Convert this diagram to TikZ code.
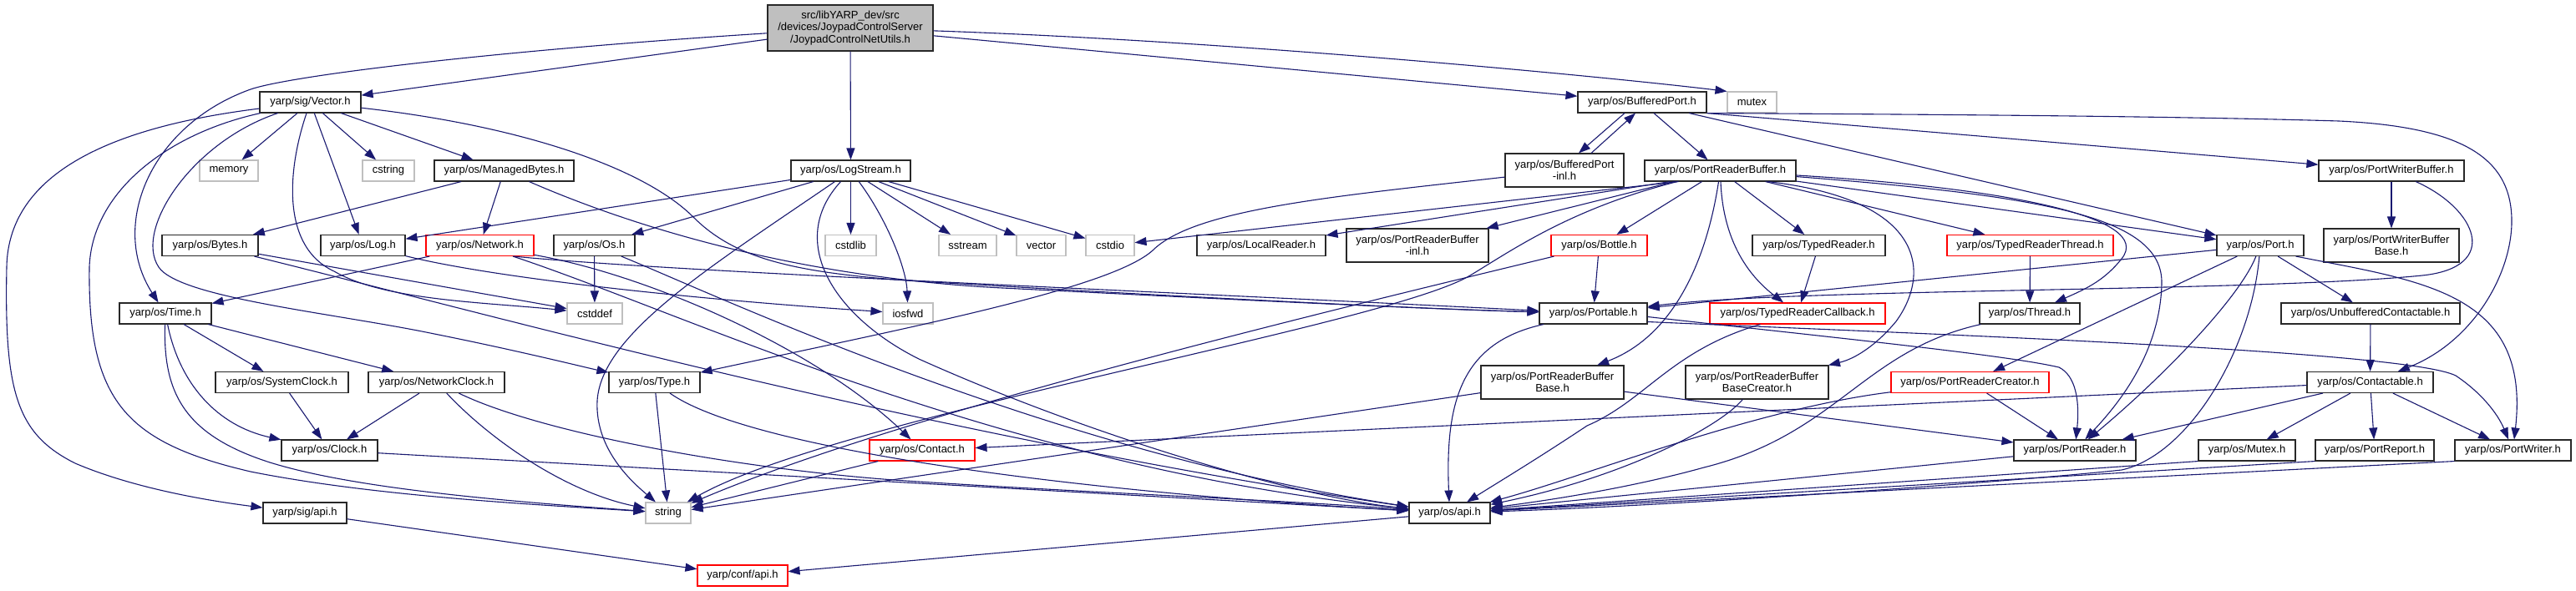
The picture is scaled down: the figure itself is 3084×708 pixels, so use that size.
\documentclass[tikz,border=0pt]{standalone}
\usepackage{fontspec}
\setmainfont{Liberation Sans}
\usetikzlibrary{arrows.meta}
\definecolor{edgec}{RGB}{25,25,112}
\definecolor{boxc}{RGB}{40,40,40}
\definecolor{grayc}{RGB}{191,191,191}
\definecolor{rootfill}{RGB}{191,191,191}
\definecolor{redc}{RGB}{255,0,0}
\tikzset{
  nb/.style={draw=boxc, line width=1.1pt, fill=white, inner sep=0pt, minimum height=25pt,
    font=\fontsize{13}{14.3}\selectfont, align=center, text=black},
  gb/.style={nb, draw=grayc},
  rb/.style={nb, draw=redc},
  e/.style={draw=edgec, line width=1.1pt, -{Triangle[length=14pt,width=10pt]}},
}
\begin{document}
\begin{tikzpicture}[x=1pt,y=-1pt]
\useasboundingbox (0,0) rectangle (3084,708);
\fill[white] (0,0) rectangle (3084,708);
% row 0
\node[nb, fill=rootfill, minimum width=198pt, minimum height=55pt] (root) at (1018,33.5) {src/libYARP\_dev/src\\/devices/JoypadControlServer\\/JoypadControlNetUtils.h};
% row 1
\node[nb, minimum width=121pt] (vec) at (371.5,122.5) {yarp/sig/Vector.h};
\node[nb, minimum width=154pt] (bport) at (1966,122.5) {yarp/os/BufferedPort.h};
\node[gb, minimum width=59pt] (mutex) at (2097.5,122.5) {mutex};
% row 2
\node[gb, minimum width=70pt] (memory) at (274,204.5) {memory};
\node[gb, minimum width=62pt] (cstring) at (465,204.5) {cstring};
\node[nb, minimum width=167pt] (mbytes) at (603.5,204.5) {yarp/os/ManagedBytes.h};
\node[nb, minimum width=143pt] (logstream) at (1018.5,204.5) {yarp/os/LogStream.h};
\node[nb, minimum width=142pt, minimum height=40pt] (bpinl) at (1873,204) {yarp/os/BufferedPort\\-inl.h};
\node[nb, minimum width=181pt] (prb) at (2059.5,204.5) {yarp/os/PortReaderBuffer.h};
\node[nb, minimum width=174pt] (pwb) at (2863,204.5) {yarp/os/PortWriterBuffer.h};
% row 3
\node[nb, minimum width=115pt] (bytes) at (251.5,294) {yarp/os/Bytes.h};
\node[nb, minimum width=101pt] (log) at (434.5,294) {yarp/os/Log.h};
\node[rb, minimum width=129pt] (network) at (574.5,294) {yarp/os/Network.h};
\node[nb, minimum width=97pt] (os) at (711.5,294) {yarp/os/Os.h};
\node[gb, minimum width=61pt] (cstdlib) at (1018.5,294) {cstdlib};
\node[gb, minimum width=69pt] (sstream) at (1158.5,294) {sstream};
\node[gb, minimum width=59pt] (vector) at (1246.5,294) {vector};
\node[gb, minimum width=58pt] (cstdio) at (1329,294) {cstdio};
\node[nb, minimum width=154pt] (localreader) at (1510,294) {yarp/os/LocalReader.h};
\node[nb, minimum width=170pt, minimum height=40pt] (prbinl) at (1697,294) {yarp/os/PortReaderBuffer\\-inl.h};
\node[rb, minimum width=115pt] (bottle) at (1914.5,294) {yarp/os/Bottle.h};
\node[nb, minimum width=159pt] (typedreader) at (2177.5,294) {yarp/os/TypedReader.h};
\node[rb, minimum width=199pt] (trthread) at (2430.5,294) {yarp/os/TypedReaderThread.h};
\node[nb, minimum width=104pt] (port) at (2706,294) {yarp/os/Port.h};
\node[nb, minimum width=162pt, minimum height=40pt] (pwbb) at (2863,294) {yarp/os/PortWriterBuffer\\Base.h};
% row 4
\node[nb, minimum width=110pt] (time) at (198,375.5) {yarp/os/Time.h};
\node[gb, minimum width=66pt] (cstddef) at (712,375.5) {cstddef};
\node[gb, minimum width=60pt] (iosfwd) at (1087,375.5) {iosfwd};
\node[nb, minimum width=129pt] (portable) at (1907.5,375.5) {yarp/os/Portable.h};
\node[rb, minimum width=210pt] (trcb) at (2152,375.5) {yarp/os/TypedReaderCallback.h};
\node[nb, minimum width=120pt] (thread) at (2430,375.5) {yarp/os/Thread.h};
\node[nb, minimum width=214pt] (ucont) at (2838,375.5) {yarp/os/UnbufferedContactable.h};
% row 5
\node[nb, minimum width=159pt] (sysclock) at (337.5,458) {yarp/os/SystemClock.h};
\node[nb, minimum width=163pt] (netclock) at (522.5,458) {yarp/os/NetworkClock.h};
\node[nb, minimum width=109pt] (type) at (783.5,458) {yarp/os/Type.h};
\node[nb, minimum width=171pt, minimum height=40pt] (prbb) at (1858.5,458) {yarp/os/PortReaderBuffer\\Base.h};
\node[nb, minimum width=171pt, minimum height=40pt] (prbbc) at (2103.5,458) {yarp/os/PortReaderBuffer\\BaseCreator.h};
\node[rb, minimum width=189pt] (prc) at (2358.5,458) {yarp/os/PortReaderCreator.h};
\node[nb, minimum width=151pt] (contactable) at (2837.5,458) {yarp/os/Contactable.h};
% row 6
\node[nb, minimum width=115pt] (clock) at (394.5,539.5) {yarp/os/Clock.h};
\node[rb, minimum width=126pt] (contact) at (1104,539.5) {yarp/os/Contact.h};
\node[nb, minimum width=146pt] (portreader) at (2484,539.5) {yarp/os/PortReader.h};
\node[nb, minimum width=116pt] (mutexh) at (2690,539.5) {yarp/os/Mutex.h};
\node[nb, minimum width=142pt] (portreport) at (2843,539.5) {yarp/os/PortReport.h};
\node[nb, minimum width=139pt] (portwriter) at (3008.5,539.5) {yarp/os/PortWriter.h};
% row 7
\node[nb, minimum width=100pt] (sigapi) at (365,614.5) {yarp/sig/api.h};
\node[gb, minimum width=54pt] (string) at (800,614.5) {string};
\node[nb, minimum width=97pt] (osapi) at (1735.5,614.5) {yarp/os/api.h};
% row 8
\node[rb, minimum width=108pt] (confapi) at (889,689.5) {yarp/conf/api.h};

% ---------- edges ----------
% root
\draw[e] (root) -- (vec);
\draw[e] (root) -- (logstream);
\draw[e] (root) -- (bport);
\draw[e] (root) .. controls (1500,50) and (1950,95) .. (mutex.north west);
\draw[e] (root) .. controls (600,60) and (350,90) .. (300,107) .. controls (180,150) and (130,270) .. (time);
% Vector.h
\draw[e] (vec) -- (memory);
\draw[e] (vec) -- (cstring);
\draw[e] (vec) -- (log);
\draw[e] (vec) -- (mbytes);
\draw[e] (vec) .. controls (150,150) and (10,200) .. (8,320) .. controls (5,470) and (20,520) .. (90,555) .. controls (160,585) and (250,600) .. (sigapi);
\draw[e] (vec) .. controls (200,160) and (110,230) .. (107,320) .. controls (105,480) and (150,530) .. (300,565) .. controls (450,595) and (650,605) .. (string);
\draw[e] (vec) .. controls (345,200) and (335,295) .. (400,325) .. controls (460,360) and (580,362) .. (cstddef);
\draw[e] (vec) .. controls (620,150) and (770,200) .. (830,260) .. controls (880,310) and (950,327) .. (1100,337) .. controls (1400,355) and (1700,370) .. (portable);
\draw[e] (vec) .. controls (230,170) and (160,275) .. (190,320) .. controls (215,357) and (400,375) .. (520,400) .. controls (620,420) and (700,440) .. (type);
% ManagedBytes
\draw[e] (mbytes) -- (bytes);
\draw[e] (mbytes) -- (network);
\draw[e] (mbytes) .. controls (800,290) and (1000,335) .. (1200,345) .. controls (1500,360) and (1700,370) .. (portable);
% LogStream
\draw[e] (logstream) -- (log);
\draw[e] (logstream) -- (os);
\draw[e] (logstream) -- (cstdlib);
\draw[e] (logstream) -- (sstream);
\draw[e] (logstream) -- (vector);
\draw[e] (logstream) -- (cstdio);
\draw[e] (logstream) .. controls (1060,260) and (1085,320) .. (iosfwd);
\draw[e] (logstream) .. controls (940,290) and (1000,380) .. (1100,430) .. controls (1300,520) and (1550,595) .. (osapi);
\draw[e] (logstream) .. controls (850,320) and (720,400) .. (715,480) .. controls (712,540) and (760,580) .. (string);
% BufferedPort
\draw[e] ([xshift=-21pt]bport.south) -- ([xshift=17pt]bpinl.north);
\draw[e] ([xshift=32pt]bpinl.north) -- ([xshift=-8pt]bport.south);
\draw[e] ([xshift=14pt]bport.south) -- ([xshift=-15pt]prb.north);
\draw[e] (bport) -- (port);
\draw[e] (bport.south east) -- (pwb);
\draw[e] (bport.south east) .. controls (2300,137) and (2600,139) .. (2800,145) .. controls (2950,152) and (3008,190) .. (3007,267) .. controls (3006,330) and (2960,410) .. (contactable);
% BufferedPort-inl
\draw[e] (bpinl) .. controls (1600,235) and (1430,250) .. (1380,300) .. controls (1330,345) and (1100,390) .. (type);
% PortReaderBuffer
\draw[e] ([xshift=-50pt]prb.south) -- (cstdio);
\draw[e] ([xshift=-60pt]prb.south) -- (localreader);
\draw[e] ([xshift=-55pt]prb.south) -- (prbinl);
\draw[e] ([xshift=-22pt]prb.south) -- (bottle);
\draw[e] (prb) -- (typedreader);
\draw[e] (prb) -- (trthread);
\draw[e] (prb) -- (port);
\draw[e] (prb) .. controls (2062,270) and (2080,320) .. (trcb);
\draw[e] (prb) .. controls (2045,300) and (2010,400) .. (prbb);
\draw[e] ([xshift=57pt]prb.south) .. controls (2310,240) and (2310,330) .. (2270,385) .. controls (2245,415) and (2220,430) .. (prbbc);
\draw[e] (prb) .. controls (2400,225) and (2580,260) .. (2540,310) .. controls (2520,335) and (2500,345) .. (thread);
\draw[e] (prb) .. controls (2450,235) and (2590,260) .. (2588,340) .. controls (2586,420) and (2540,480) .. (portreader);
\draw[e] (prb) .. controls (1880,250) and (1810,300) .. (1760,330) .. controls (1660,390) and (1000,500) .. (string);
% PortWriterBuffer
\draw[e] (pwb) -- (pwbb);
\draw[e] (pwb) .. controls (2965,250) and (2995,320) .. (2900,330) .. controls (2700,350) and (2150,345) .. (portable);
% row 3 sources
\draw[e] (bytes) -- (cstddef);
\draw[e] (bytes) .. controls (600,380) and (1100,520) .. (osapi);
\draw[e] (log) .. controls (600,335) and (850,360) .. (iosfwd);
\draw[e] (network) -- (time);
\draw[e] (network) .. controls (780,330) and (980,420) .. (contact);
\draw[e] ([xshift=40pt]network.south) .. controls (800,325) and (1300,345) .. (portable);
\draw[e] (network) .. controls (820,375) and (1200,560) .. (osapi);
\draw[e] (os) -- (cstddef);
\draw[e] (os) .. controls (850,350) and (1250,540) .. (osapi);
\draw[e] (bottle) -- (portable);
\draw[e] (bottle) .. controls (1600,370) and (1080,495) .. (string);
\draw[e] (typedreader) -- (trcb);
\draw[e] (trthread) -- (thread);
% Port
\draw[e] (port) -- (portable);
\draw[e] (port) -- (prc);
\draw[e] (port) -- (ucont);
\draw[e] (port) .. controls (2680,360) and (2580,460) .. (portreader);
\draw[e] (port) .. controls (2695,420) and (2620,545) .. (2540,563) .. controls (2400,578) and (2000,606) .. (osapi);
\draw[e] ([xshift=-10pt]port.south east) .. controls (2900,337) and (3030,350) .. (portwriter);
% row 4 sources
\draw[e] (time) -- (sysclock);
\draw[e] (time) -- (netclock);
\draw[e] (time) .. controls (215,460) and (260,510) .. (clock);
\draw[e] (time) .. controls (195,470) and (220,520) .. (320,553) .. controls (420,585) and (600,600) .. (string);
\draw[e] (portable) .. controls (1750,410) and (1730,480) .. (osapi);
\draw[e] ([yshift=-4pt]portable.east) .. controls (2200,405) and (2400,425) .. (2465,440) .. controls (2485,450) and (2490,480) .. (portreader);
\draw[e] ([yshift=-10pt]portable.east) .. controls (2300,400) and (2880,420) .. (2940,450) .. controls (2970,470) and (2990,495) .. (portwriter);
\draw[e] (trcb) .. controls (2000,420) and (1970,480) .. (1900,510) .. controls (1840,550) and (1790,580) .. (osapi);
\draw[e] (thread) .. controls (2230,420) and (2200,520) .. (2040,560) .. controls (1950,585) and (1850,600) .. (osapi);
\draw[e] (ucont) -- (contactable);
% row 5 sources
\draw[e] (sysclock) -- (clock);
\draw[e] (netclock) -- (clock);
\draw[e] (netclock) .. controls (590,530) and (680,590) .. (string);
\draw[e] (netclock) .. controls (650,520) and (900,565) .. (1100,577) .. controls (1300,590) and (1550,600) .. (osapi);
\draw[e] (type) -- (string);
\draw[e] (type) .. controls (900,540) and (1300,590) .. (osapi);
\draw[e] (prbb) -- (string);
\draw[e] (prbb) -- (portreader);
\draw[e] (prbbc) .. controls (2060,510) and (1950,570) .. (osapi);
\draw[e] (prc) -- (portreader);
\draw[e] (prc) .. controls (2100,490) and (1900,570) .. (osapi);
\draw[e] (contactable) -- (contact);
\draw[e] (contactable) -- (portreader);
\draw[e] (contactable) -- (mutexh);
\draw[e] (contactable) -- (portreport);
\draw[e] (contactable) -- (portwriter);
% row 6 sources
\draw[e] (clock) -- (osapi);
\draw[e] (contact) -- (string);
\draw[e] (portreader) -- (osapi);
\draw[e] (mutexh.south west) -- (osapi);
\draw[e] (portreport.south west) -- (osapi);
\draw[e] (portwriter.south west) -- (osapi);
% row 7 sources
\draw[e] (sigapi) -- (confapi);
\draw[e] (osapi) -- (confapi);
\end{tikzpicture}
\end{document}
